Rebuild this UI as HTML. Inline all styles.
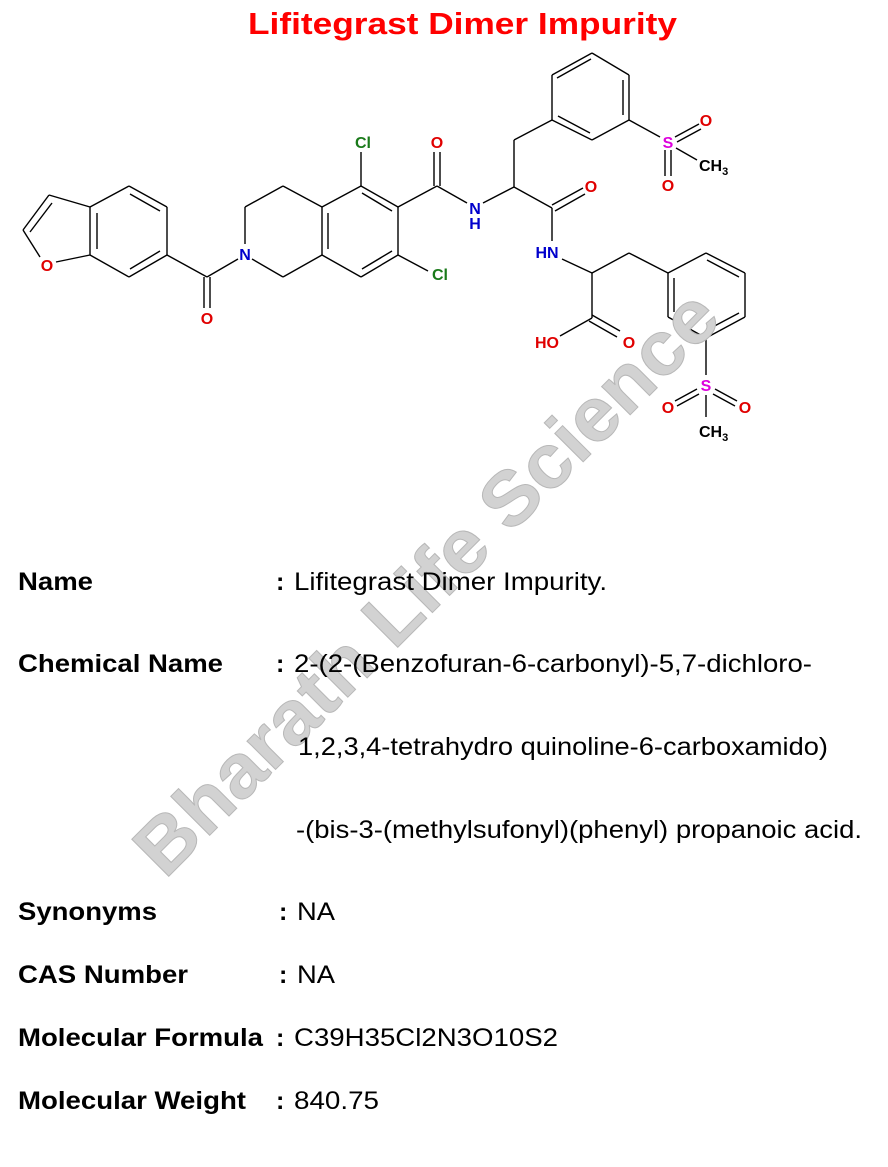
<!DOCTYPE html>
<html><head><meta charset="utf-8"><style>
html,body{margin:0;padding:0;background:#fff;}
body{width:888px;height:1167px;position:relative;overflow:hidden;font-family:"Liberation Sans",Arial,sans-serif;}
svg{position:absolute;left:0;top:0;}
svg text{font-family:"Liberation Sans",Arial,sans-serif;}
</style></head><body>
<svg width="888" height="1167" viewBox="0 0 888 1167" xmlns="http://www.w3.org/2000/svg">
<text x="248" y="34" font-weight="bold" font-size="31" fill="#ff0000" textLength="429" lengthAdjust="spacingAndGlyphs">Lifitegrast Dimer Impurity</text>
<g stroke="#000" stroke-width="1.4" fill="none">
<line x1="90" y1="207" x2="49" y2="195"/><line x1="49" y1="195" x2="23" y2="230"/>
<line x1="52" y1="203" x2="30" y2="232"/>
<line x1="23" y1="230" x2="40" y2="257"/><line x1="56" y1="262" x2="90" y2="255"/>
<line x1="90" y1="207" x2="129" y2="186"/><line x1="129" y1="186" x2="167" y2="207"/>
<line x1="167" y1="207" x2="167" y2="255"/><line x1="167" y1="255" x2="129" y2="277"/>
<line x1="129" y1="277" x2="90" y2="255"/><line x1="90" y1="255" x2="90" y2="207"/>
<line x1="97" y1="213" x2="97" y2="249"/><line x1="130" y1="194" x2="160" y2="211"/><line x1="160" y1="251" x2="130" y2="269"/>
<line x1="167" y1="255" x2="207" y2="277"/><line x1="207" y1="277" x2="238" y2="259"/>
<line x1="204" y1="277" x2="204" y2="308"/><line x1="210" y1="277" x2="210" y2="308"/>
<line x1="252" y1="259" x2="283" y2="277"/><line x1="283" y1="277" x2="322" y2="255"/>
<line x1="245" y1="244" x2="245" y2="207"/><line x1="245" y1="207" x2="283" y2="186"/>
<line x1="283" y1="186" x2="322" y2="207"/><line x1="322" y1="207" x2="322" y2="255"/>
<line x1="328" y1="213" x2="328" y2="249"/>
<line x1="322" y1="207" x2="361" y2="186"/><line x1="361" y1="186" x2="398" y2="207"/>
<line x1="362" y1="193" x2="392" y2="211"/>
<line x1="398" y1="207" x2="398" y2="255"/><line x1="398" y1="255" x2="361" y2="277"/>
<line x1="392" y1="251" x2="362" y2="269"/>
<line x1="361" y1="277" x2="322" y2="255"/>
<line x1="361" y1="186" x2="361" y2="152"/>
<line x1="398" y1="255" x2="428" y2="271"/>
<line x1="398" y1="207" x2="437" y2="186"/>
<line x1="434" y1="186" x2="434" y2="152"/><line x1="440" y1="186" x2="440" y2="152"/>
<line x1="437" y1="186" x2="467" y2="203"/>
<line x1="483" y1="203" x2="514" y2="187"/>
<line x1="514" y1="187" x2="514" y2="140"/><line x1="514" y1="140" x2="552" y2="120"/>
<line x1="552" y1="120" x2="552" y2="75"/><line x1="552" y1="75" x2="592" y2="53"/>
<line x1="592" y1="53" x2="629" y2="75"/><line x1="629" y1="75" x2="629" y2="120"/>
<line x1="629" y1="120" x2="592" y2="140"/><line x1="592" y1="140" x2="552" y2="120"/>
<line x1="557" y1="78" x2="591" y2="59"/><line x1="623" y1="80" x2="623" y2="115"/><line x1="590" y1="133" x2="558" y2="116"/>
<line x1="629" y1="120" x2="660" y2="137"/>
<line x1="675" y1="137" x2="699" y2="124"/><line x1="677" y1="142" x2="701" y2="129"/>
<line x1="665" y1="150" x2="665" y2="176"/><line x1="671" y1="150" x2="671" y2="176"/>
<line x1="676" y1="148" x2="697" y2="160"/>
<line x1="514" y1="187" x2="552" y2="208"/>
<line x1="552" y1="205" x2="583" y2="188"/><line x1="555" y1="211" x2="585" y2="194"/>
<line x1="552" y1="208" x2="552" y2="241"/>
<line x1="562" y1="259" x2="592" y2="273"/>
<line x1="592" y1="273" x2="629" y2="253"/><line x1="629" y1="253" x2="668" y2="273"/>
<line x1="668" y1="273" x2="706" y2="253"/><line x1="706" y1="253" x2="745" y2="273"/>
<line x1="745" y1="273" x2="745" y2="317"/><line x1="745" y1="317" x2="706" y2="338"/>
<line x1="706" y1="338" x2="668" y2="317"/><line x1="668" y1="317" x2="668" y2="273"/>
<line x1="674" y1="278" x2="674" y2="312"/><line x1="707" y1="260" x2="739" y2="277"/><line x1="739" y1="313" x2="707" y2="330"/>
<line x1="706" y1="338" x2="706" y2="375"/>
<line x1="697" y1="389" x2="675" y2="401"/><line x1="699" y1="394" x2="677" y2="406"/>
<line x1="715" y1="389" x2="737" y2="401"/><line x1="713" y1="394" x2="735" y2="406"/>
<line x1="706" y1="395" x2="706" y2="417"/>
<line x1="592" y1="273" x2="592" y2="318"/>
<line x1="592" y1="318" x2="560" y2="336"/>
<line x1="592" y1="315" x2="620" y2="331"/><line x1="589" y1="321" x2="617" y2="337"/>
</g>
<g font-weight="bold" font-size="16" text-anchor="middle">
<text x="47" y="271" fill="#e00000">O</text>
<text x="207" y="324" fill="#e00000">O</text>
<text x="245" y="260" fill="#0000cc">N</text>
<text x="363" y="148" fill="#1a7a1a">Cl</text>
<text x="440" y="280" fill="#1a7a1a">Cl</text>
<text x="437" y="148" fill="#e00000">O</text>
<text x="475" y="214" fill="#0000cc">N</text>
<text x="475" y="229" fill="#0000cc">H</text>
<text x="591" y="192" fill="#e00000">O</text>
<text x="547" y="258" fill="#0000cc">HN</text>
<text x="668" y="148" fill="#dd00dd">S</text>
<text x="706" y="126" fill="#e00000">O</text>
<text x="668" y="191" fill="#e00000">O</text>
<text x="706" y="391" fill="#dd00dd">S</text>
<text x="668" y="413" fill="#e00000">O</text>
<text x="745" y="413" fill="#e00000">O</text>
<text x="547" y="348" fill="#e00000">HO</text>
<text x="629" y="348" fill="#e00000">O</text>
</g>
<g font-weight="bold" font-size="16" fill="#000">
<text x="699" y="171">CH<tspan font-size="11" dy="4">3</tspan></text>
<text x="699" y="437">CH<tspan font-size="11" dy="4">3</tspan></text>
</g>
<text x="0" y="0" transform="translate(165,880) rotate(-45)" font-weight="bold" font-size="76" fill="#d2d2d2" stroke="#b8b8b8" stroke-width="1" textLength="790" lengthAdjust="spacingAndGlyphs">Bharath Life Science</text>
<g font-size="25" fill="#000">
<g font-weight="bold">
<text x="18" y="590" textLength="75" lengthAdjust="spacingAndGlyphs">Name</text>
<text x="18" y="672" textLength="205" lengthAdjust="spacingAndGlyphs">Chemical Name</text>
<text x="18" y="920" textLength="139" lengthAdjust="spacingAndGlyphs">Synonyms</text>
<text x="18" y="983" textLength="170" lengthAdjust="spacingAndGlyphs">CAS Number</text>
<text x="18" y="1046" textLength="245" lengthAdjust="spacingAndGlyphs">Molecular Formula</text>
<text x="18" y="1109" textLength="228" lengthAdjust="spacingAndGlyphs">Molecular Weight</text>
<text x="276" y="590">:</text>
<text x="276" y="672">:</text>
<text x="279" y="920">:</text>
<text x="279" y="983">:</text>
<text x="276" y="1046">:</text>
<text x="276" y="1109">:</text>
</g>
<text x="294" y="590" textLength="313" lengthAdjust="spacingAndGlyphs">Lifitegrast Dimer Impurity.</text>
<text x="294" y="672" textLength="518" lengthAdjust="spacingAndGlyphs">2-(2-(Benzofuran-6-carbonyl)-5,7-dichloro-</text>
<text x="298" y="755" textLength="530" lengthAdjust="spacingAndGlyphs">1,2,3,4-tetrahydro quinoline-6-carboxamido)</text>
<text x="296" y="838" textLength="566" lengthAdjust="spacingAndGlyphs">-(bis-3-(methylsufonyl)(phenyl) propanoic acid.</text>
<text x="297" y="920" textLength="38" lengthAdjust="spacingAndGlyphs">NA</text>
<text x="297" y="983" textLength="38" lengthAdjust="spacingAndGlyphs">NA</text>
<text x="294" y="1046" textLength="264" lengthAdjust="spacingAndGlyphs">C39H35Cl2N3O10S2</text>
<text x="294" y="1109" textLength="85" lengthAdjust="spacingAndGlyphs">840.75</text>
</g>
</svg>
</body></html>
